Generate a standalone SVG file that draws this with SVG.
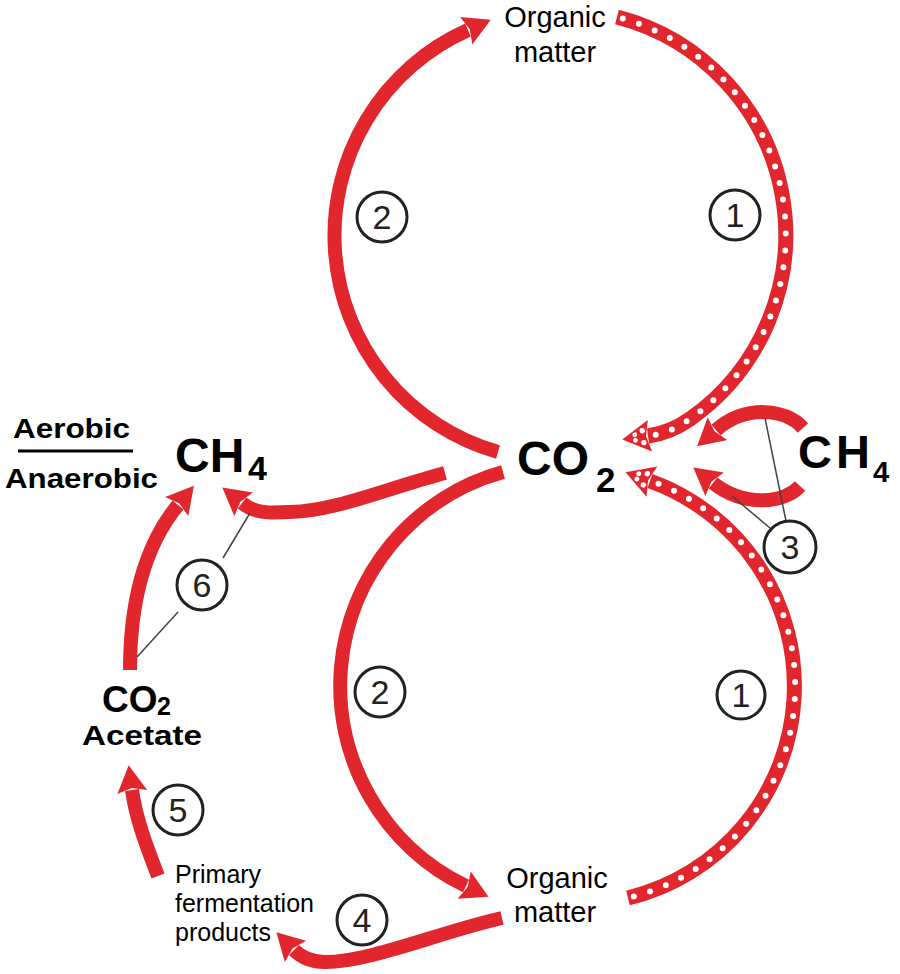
<svg xmlns="http://www.w3.org/2000/svg" width="900" height="974" viewBox="0 0 900 974">
<style>
.red{fill:none;stroke:#E1262D;stroke-width:14;stroke-linecap:butt}
.redd{fill:none;stroke:#E1262D;stroke-width:15;stroke-linecap:butt}
.dots{fill:none;stroke:#fff;stroke-width:6;stroke-linecap:round;stroke-dasharray:0 17}
.lead{fill:none;stroke:#444;stroke-width:1.5}
.num circle{fill:none;stroke:#222;stroke-width:3}
.num text{font-family:"Liberation Sans",Arial,sans-serif;font-size:34px;fill:#222;text-anchor:middle}
.lbl{font-family:"Liberation Sans",Arial,sans-serif;fill:#000}
.bold{font-family:"Liberation Sans",Arial,sans-serif;font-weight:bold;fill:#000}
.dj{font-family:"Liberation Sans",Arial,sans-serif;font-weight:bold;fill:#000}
</style>
<defs>
<marker id="ah" markerUnits="userSpaceOnUse" viewBox="-2 -17 32 34" markerWidth="32" markerHeight="34" refX="2" refY="0" orient="auto">
<path d="M0,-15 L27,0 L0,15 L4,0 Z" fill="#E1262D"/>
</marker>
<marker id="ahd" markerUnits="userSpaceOnUse" viewBox="-2 -17 32 34" markerWidth="32" markerHeight="34" refX="2" refY="0" orient="auto">
<path d="M0,-16 L28,0 L0,16 L4,0 Z" fill="#E1262D"/>
<circle cx="7" cy="-6" r="2.7" fill="#fff"/>
<circle cx="7" cy="6" r="2.7" fill="#fff"/>
<circle cx="15" cy="-2.6" r="2.4" fill="#fff"/>
<circle cx="15" cy="3" r="2.4" fill="#fff"/>
</marker>
</defs>
<rect width="900" height="974" fill="#fff"/>
<g id="connectors">
<path class="red" d="M498,452 A225,225 0 0 1 468,30" marker-end="url(#ah)"/>
<path class="redd" d="M617,17 A225,225 0 0 1 690,419 Q670,433 648,436" marker-end="url(#ahd)"/>
<path class="dots" d="M617,17 A225,225 0 0 1 690,419 Q670,433 652,435.5" stroke-dashoffset="-6"/>
<path class="red" d="M503,472 A222,222 0 0 0 466,886" marker-end="url(#ah)"/>
<path class="redd" d="M628,898 A218,218 0 0 0 650,481" marker-end="url(#ahd)"/>
<path class="dots" d="M628,898 A218,218 0 0 0 654,482" stroke-dashoffset="-6"/>
<path class="red" d="M445,473 C385,489 335,511 290,512 C270,513 256,514 242,503" marker-end="url(#ah)"/>
<path class="red" d="M130,670 C130,600 145,545 178,505" marker-end="url(#ah)"/>
<path class="red" d="M158,876 C148,850 136,820 132,790" marker-end="url(#ah)"/>
<path class="red" d="M502,918 C440,932 370,962 325,962 C312,962 302,958 294,950" marker-end="url(#ah)"/>
<path class="red" d="M803,428 C785,408 745,405 716,430" marker-end="url(#ah)"/>
<path class="red" d="M800,486 C785,503 745,508 713,483" marker-end="url(#ah)"/>
<line class="lead" x1="765" y1="418" x2="786" y2="521"/>
<line class="lead" x1="732" y1="496" x2="770" y2="528"/>
<line class="lead" x1="137" y1="657" x2="178" y2="612"/>
<line class="lead" x1="223" y1="558" x2="250" y2="513"/>
</g>
<g id="organic-top">
<text class="lbl" x="555" y="27" font-size="29" text-anchor="middle">Organic</text>
<text class="lbl" x="555" y="62" font-size="29" text-anchor="middle">matter</text>
</g>
<g id="organic-bottom">
<text class="lbl" x="557" y="888" font-size="29" text-anchor="middle">Organic</text>
<text class="lbl" x="555" y="922" font-size="29" text-anchor="middle">matter</text>
</g>
<g id="co2-center">
<text class="bold" x="517" y="475" font-size="48">CO</text>
<text class="bold" x="596" y="492" font-size="35">2</text>
</g>
<g id="ch4-right">
<text class="bold" x="798" y="468" font-size="47" textLength="72" lengthAdjust="spacing">CH</text>
<text class="bold" x="873" y="482" font-size="29">4</text>
</g>
<g id="ch4-left">
<text class="bold" x="175" y="472" font-size="48">CH</text>
<text class="bold" x="248" y="480" font-size="34">4</text>
</g>
<g id="aerobic-anaerobic">
<text class="dj" x="13" y="438" font-size="27" textLength="117" lengthAdjust="spacingAndGlyphs">Aerobic</text>
<line x1="18" y1="451" x2="133" y2="451" stroke="#000" stroke-width="3"/>
<text class="dj" x="5" y="488" font-size="28" textLength="153" lengthAdjust="spacingAndGlyphs">Anaerobic</text>
</g>
<g id="co2-acetate">
<text class="bold" x="102" y="712" font-size="37">CO</text>
<text class="bold" x="157" y="715" font-size="25">2</text>
<text class="dj" x="82" y="745" font-size="28" textLength="120" lengthAdjust="spacingAndGlyphs">Acetate</text>
</g>
<g id="primary-products">
<text class="lbl" x="175" y="883" font-size="25">Primary</text>
<text class="lbl" x="175" y="912" font-size="25">fermentation</text>
<text class="lbl" x="175" y="941" font-size="25">products</text>
</g>
<g id="label-1-top" class="num"><circle cx="735" cy="215" r="25"/><text x="735" y="227">1</text></g>
<g id="label-2-top" class="num"><circle cx="382" cy="217" r="25"/><text x="382" y="229">2</text></g>
<g id="label-2-bottom" class="num"><circle cx="380" cy="692" r="25"/><text x="380" y="704">2</text></g>
<g id="label-1-bottom" class="num"><circle cx="741" cy="695" r="24"/><text x="741" y="707">1</text></g>
<g id="label-3" class="num"><circle cx="790" cy="547" r="26"/><text x="790" y="559">3</text></g>
<g id="label-6" class="num"><circle cx="202" cy="585" r="25"/><text x="202" y="597">6</text></g>
<g id="label-5" class="num"><circle cx="178" cy="810" r="25"/><text x="178" y="822">5</text></g>
<g id="label-4" class="num"><circle cx="362" cy="920" r="25"/><text x="362" y="932">4</text></g>
</svg>
